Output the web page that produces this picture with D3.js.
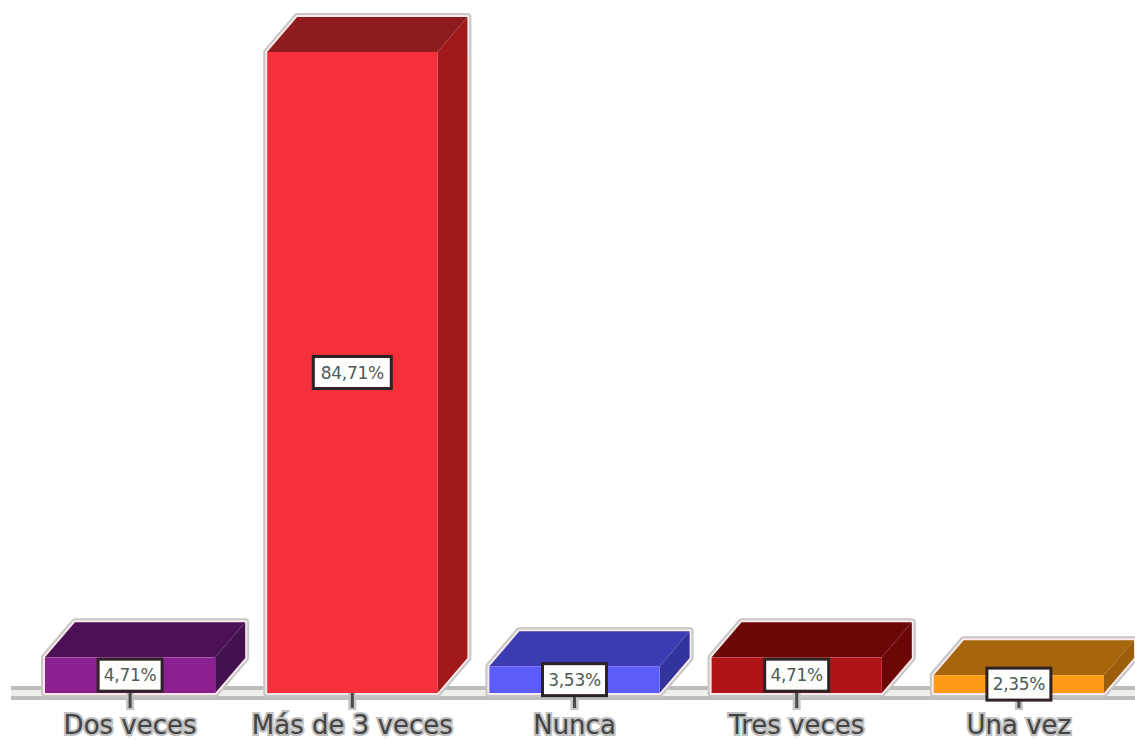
<!DOCTYPE html>
<html>
<head>
<meta charset="utf-8">
<script src="https://cdn.jsdelivr.net/npm/d3@7"></script>
<style>
  html, body { margin: 0; padding: 0; background: #fff; }
  svg { display: block; }
</style>
</head>
<body>
<div id="graph"></div>
<script>
const categories = ["Dos veces", "Más de 3 veces", "Nunca", "Tres veces", "Una vez"];
const percents = [4.71, 84.71, 3.53, 4.71, 2.35];
const frontColors = ["#8e1f90", "#f5303a", "#5c5cfa", "#b01318", "#fd9a16"];
const topColors = ["#4c1056", "#8e1c1e", "#3b3bb2", "#6c0708", "#a7650c"];
const sideColors = ["#431050", "#a01a1c", "#33339e", "#6c0708", "#9c5e0a"];

const width = 1135, height = 741;
const depth = {x: 30, y: 35};
const baseline = 693;

let data = categories.map(function(d, i) {
    return {name: d, value: percents[i], front: frontColors[i], top: topColors[i], side: sideColors[i]};
});

let svg = d3.select("#graph")
    .append("svg")
    .attr("width", width)
    .attr("height", height);

let x = d3.scaleBand()
    .domain(categories)
    .range([45, 1104])
    .paddingInner(0.234)
    .paddingOuter(0);

let y = d3.scaleLinear()
    .domain([0, 84.71])
    .range([baseline, 52]);

// floor of the chart: two grey rules with a pale gap
svg.append("rect").attr("x", 11).attr("y", 686).attr("width", width - 11).attr("height", 14).attr("fill", "#bcbebc");
svg.append("rect").attr("x", 11).attr("y", 690).attr("width", width - 11).attr("height", 6).attr("fill", "#eef0ec");

function pts(list) {
    return list.map(function(p) { return p.join(","); }).join(" ");
}

let bars = svg.selectAll("g.bar")
    .data(data)
    .enter()
    .append("g")
    .attr("class", "bar");

function outline(d) {
    let l = x(d.name), r = l + x.bandwidth(), t = y(d.value);
    return pts([[l, baseline], [l, t], [l + depth.x, t - depth.y], [r + depth.x, t - depth.y],
        [r + depth.x, baseline - depth.y], [r, baseline]]);
}

// halo around the whole block
bars.append("polygon")
    .attr("points", outline)
    .attr("fill", "#fff")
    .attr("stroke", "#c6c6c6")
    .attr("stroke-width", 8)
    .attr("stroke-linejoin", "round");

bars.append("polygon")
    .attr("points", outline)
    .attr("fill", "#fff")
    .attr("stroke", "#fbe9ea")
    .attr("stroke-width", 4)
    .attr("stroke-linejoin", "round");

bars.append("polygon")
    .attr("fill", function(d) { return d.top; })
    .attr("points", function(d) {
        let l = x(d.name), r = l + x.bandwidth(), t = y(d.value);
        return pts([[l, t], [l + depth.x, t - depth.y], [r + depth.x, t - depth.y], [r, t]]);
    });

bars.append("polygon")
    .attr("fill", function(d) { return d.side; })
    .attr("points", function(d) {
        let r = x(d.name) + x.bandwidth(), t = y(d.value);
        return pts([[r, t], [r + depth.x, t - depth.y], [r + depth.x, baseline - depth.y], [r, baseline]]);
    });

bars.append("rect")
    .attr("fill", function(d) { return d.front; })
    .attr("x", function(d) { return x(d.name); })
    .attr("y", function(d) { return y(d.value); })
    .attr("width", x.bandwidth())
    .attr("height", function(d) { return baseline - y(d.value); });

// category axis with short ticks
let axis = svg.append("g")
    .attr("transform", `translate(0, ${baseline})`)
    .call(d3.axisBottom(x).tickSize(15).tickPadding(8));

axis.select(".domain").remove();
axis.selectAll(".tick")
    .insert("line", "line")
    .attr("y2", 17)
    .attr("stroke", "#c4c4c4")
    .attr("stroke-width", 8);
axis.selectAll(".tick line:last-of-type")
    .attr("stroke", "#4a4a4a")
    .attr("stroke-width", 3);
axis.selectAll(".tick text")
    .attr("fill", "#444444")
    .attr("stroke", "#c0c0c0")
    .attr("stroke-width", 4)
    .attr("paint-order", "stroke")
    .style("font-family", "'DejaVu Sans'")
    .style("font-size", "26px");

// value boxes, centred on the front face
let boxes = svg.selectAll("g.value")
    .data(data)
    .enter()
    .append("g")
    .attr("class", "value")
    .attr("transform", function(d) {
        return `translate(${x(d.name) + x.bandwidth() / 2}, ${(y(d.value) + baseline) / 2})`;
    });

boxes.append("rect")
    .attr("x", function(d) { return d.value > 10 ? -39 : -32; })
    .attr("y", -16)
    .attr("width", function(d) { return d.value > 10 ? 78 : 64; })
    .attr("height", 32)
    .attr("fill", "#fdfefb")
    .attr("stroke", "#2e2226")
    .attr("stroke-width", 3);

boxes.append("text")
    .attr("text-anchor", "middle")
    .attr("dy", "0.36em")
    .attr("fill", "#4d5a58")
    .style("font-family", "'DejaVu Sans'")
    .style("font-size", "17px")
    .style("letter-spacing", "-0.3px")
    .text(function(d) { return d.value.toFixed(2).replace(".", ",") + "%"; });
</script>
</body>
</html>
